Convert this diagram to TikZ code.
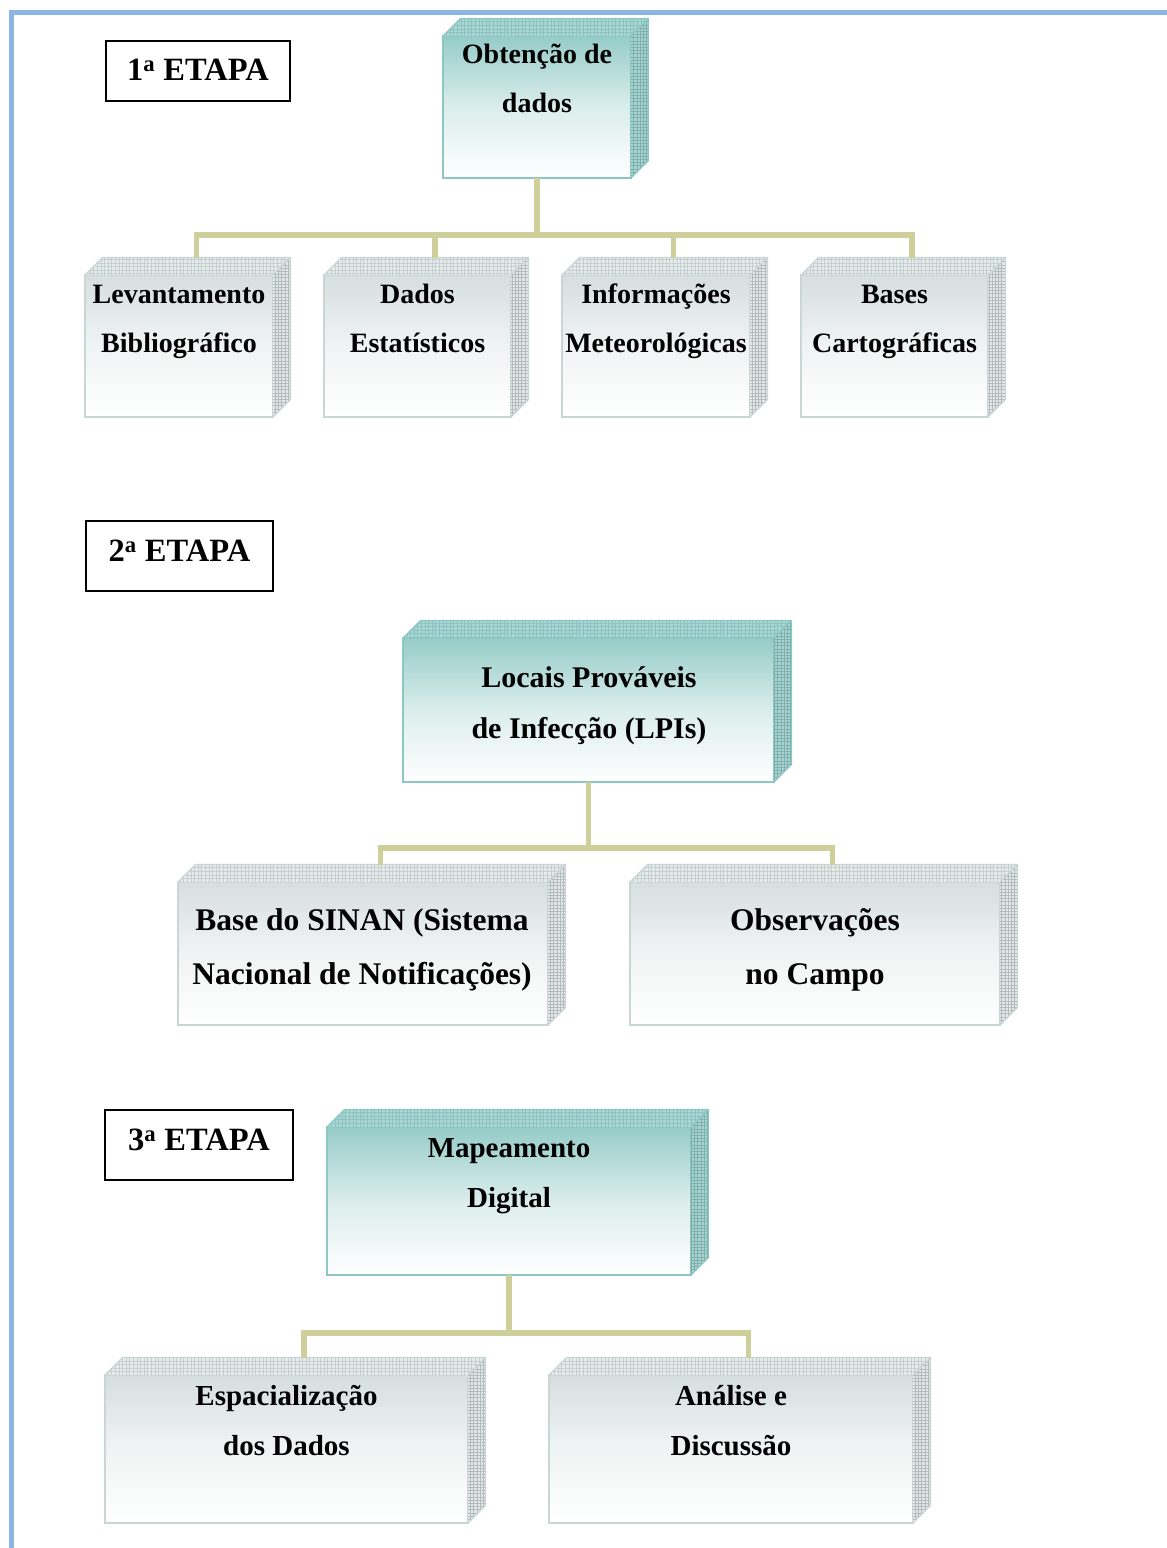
\documentclass[tikz,border=0pt]{standalone}
\usepackage{fontspec}
\setmainfont{Liberation Serif}
\usetikzlibrary{patterns,patterns.meta,calc}
\definecolor{tealTop}{HTML}{96CCC8}
\definecolor{tealEdge}{HTML}{8CC7C3}
\definecolor{tealFace}{HTML}{AAD7D4}
\definecolor{tealGrid}{HTML}{8CC3C0}
\definecolor{grayTop}{HTML}{D6DEDE}
\definecolor{grayEdge}{HTML}{CAD6D4}
\definecolor{grayFace}{HTML}{E6EBEB}
\definecolor{grayGrid}{HTML}{C6CFCF}
\definecolor{connCol}{HTML}{CFCF9B}
\definecolor{frameBlue}{HTML}{8EB4E3}
\newcommand\cubefaces[4]{%
  \fill[#2] (#1.north west) -- ++(17.5,-17.5) -- ($(#1.north east)+(17.5,-17.5)$) -- (#1.north east) -- cycle;
  \fill[pattern={Hatch[distance=3.6pt, line width=0.5pt]}, pattern color=#3] (#1.north west) -- ++(17.5,-17.5) -- ($(#1.north east)+(17.5,-17.5)$) -- (#1.north east) -- cycle;
  \fill[#2!92!#3] (#1.north east) -- ++(17.5,-17.5) -- ($(#1.south east)+(17.5,-17.5)$) -- (#1.south east) -- cycle;
  \fill[pattern={Hatch[distance=3.2pt, line width=0.5pt]}, pattern color=#3!90!black] (#1.north east) -- ++(17.5,-17.5) -- ($(#1.south east)+(17.5,-17.5)$) -- (#1.south east) -- cycle;
  \draw[#4, line width=1.3pt, line join=round] (#1.north west) -- ++(17.5,-17.5) -- ($(#1.north east)+(17.5,-17.5)$) -- ($(#1.south east)+(17.5,-17.5)$) -- (#1.south east);
  \draw[#4, line width=1.3pt] (#1.north east) -- ++(17.5,-17.5);
  \coordinate (#1-top) at ($(#1.north)+(17.5,-17.5)$);
}
\newcommand\ph{\vphantom{(}}
\tikzset{
  x=1pt, y=-1pt,
  front/.style n args={2}{draw=#1, line width=1.5pt, inner sep=0pt, outer sep=0pt, top color=#2, bottom color=white, middle color=#2!35!white},
  tealbox/.style={front={tealEdge}{tealTop}},
  graybox/.style={front={grayEdge}{grayTop}},
  etapa/.style={draw=black, line width=1.3pt, inner sep=0pt, font=\fontsize{32.5}{36}\selectfont\bfseries},
  lbl/.style={align=center, inner sep=0pt},
  connector/.style={draw=connCol, line width=5.5pt},
}
\begin{document}
\begin{tikzpicture}
\useasboundingbox (0,0) rectangle (1167,1548);
\draw[frameBlue, line width=5pt] (11.5,1548) -- (11.5,12.5) -- (1167,12.5);

% ---- stage labels
\node[etapa, minimum width=184, minimum height=60, text depth=2pt] (e1) at (198,71) {1\textsuperscript{a} ETAPA\hspace{3pt}};
\node[etapa, minimum width=187, minimum height=70, text depth=10pt] (e2) at (179.5,556) {2\textsuperscript{a} ETAPA\hspace{13pt}};
\node[etapa, minimum width=188, minimum height=70, text depth=10pt] (e3) at (199,1145) {3\textsuperscript{a} ETAPA\hspace{13pt}};

% ---- boxes (front faces)
\node[tealbox, minimum width=188, minimum height=142] (obt) at (537,107) {};
\node[graybox, minimum width=188, minimum height=142] (lev) at (179,346) {};
\node[graybox, minimum width=187, minimum height=142] (dad) at (417.5,346) {};
\node[graybox, minimum width=188, minimum height=142] (inf) at (656,346) {};
\node[graybox, minimum width=187, minimum height=142] (bas) at (894.5,346) {};
\node[tealbox, minimum width=371, minimum height=144] (loc) at (588.5,710) {};
\node[graybox, minimum width=370, minimum height=143] (sin) at (363,953.5) {};
\node[graybox, minimum width=370, minimum height=143] (obs) at (815,953.5) {};
\node[tealbox, minimum width=364, minimum height=148] (map) at (509,1201) {};
\node[graybox, minimum width=363, minimum height=148] (esp) at (286.5,1449) {};
\node[graybox, minimum width=364, minimum height=148] (ana) at (731,1449) {};

\cubefaces{obt}{tealFace}{tealGrid}{tealEdge}
\cubefaces{lev}{grayFace}{grayGrid}{grayEdge}
\cubefaces{dad}{grayFace}{grayGrid}{grayEdge}
\cubefaces{inf}{grayFace}{grayGrid}{grayEdge}
\cubefaces{bas}{grayFace}{grayGrid}{grayEdge}
\cubefaces{loc}{tealFace}{tealGrid}{tealEdge}
\cubefaces{sin}{grayFace}{grayGrid}{grayEdge}
\cubefaces{obs}{grayFace}{grayGrid}{grayEdge}
\cubefaces{map}{tealFace}{tealGrid}{tealEdge}
\cubefaces{esp}{grayFace}{grayGrid}{grayEdge}
\cubefaces{ana}{grayFace}{grayGrid}{grayEdge}

% ---- connectors
\foreach \c in {lev,dad,inf,bas}
  \draw[connector] (obt.south) -- ++(0,57) -| (\c-top);
\foreach \c in {sin,obs}
  \draw[connector] (loc.south) -- ++(0,66) -| (\c-top);
\foreach \c in {esp,ana}
  \draw[connector] (map.south) -- ++(0,58) -| (\c-top);

% ---- texts
\node[lbl, font=\fontsize{28}{49}\selectfont\bfseries] (obt-t) at (537,81) {\ph Obtenção de\\\ph dados};
\node[lbl, font=\fontsize{28}{49}\selectfont\bfseries] (lev-t) at (179,321) {\ph Levantamento\\\ph Bibliográfico};
\node[lbl, font=\fontsize{28}{49}\selectfont\bfseries] (dad-t) at (417.5,321) {\ph Dados\\\ph Estatísticos};
\node[lbl, font=\fontsize{28}{49}\selectfont\bfseries] (inf-t) at (656,321) {\ph Informações\\\ph Meteorológicas};
\node[lbl, font=\fontsize{28}{49}\selectfont\bfseries] (bas-t) at (894.5,321) {\ph Bases\\\ph Cartográficas};
\node[lbl, font=\fontsize{30}{51}\selectfont\bfseries] (loc-t) at (589,706) {\ph Locais Prováveis\\\ph de Infecção (LPIs)};
\node[lbl, font=\fontsize{31.5}{54}\selectfont\bfseries] (sin-t) at (362,950) {\ph Base do SINAN (Sistema\\\ph Nacional de Notificações)};
\node[lbl, font=\fontsize{31.5}{54}\selectfont\bfseries] (obs-t) at (815,950) {\ph Observações\\\ph no Campo};
\node[lbl, font=\fontsize{29}{50}\selectfont\bfseries] (map-t) at (509,1176) {\ph Mapeamento\\\ph Digital};
\node[lbl, font=\fontsize{29}{50}\selectfont\bfseries] (esp-t) at (286.5,1423.5) {\ph Espacialização\\\ph dos Dados};
\node[lbl, font=\fontsize{29}{50}\selectfont\bfseries] (ana-t) at (731,1423.5) {\ph Análise e\\\ph Discussão};
\end{tikzpicture}
\end{document}
